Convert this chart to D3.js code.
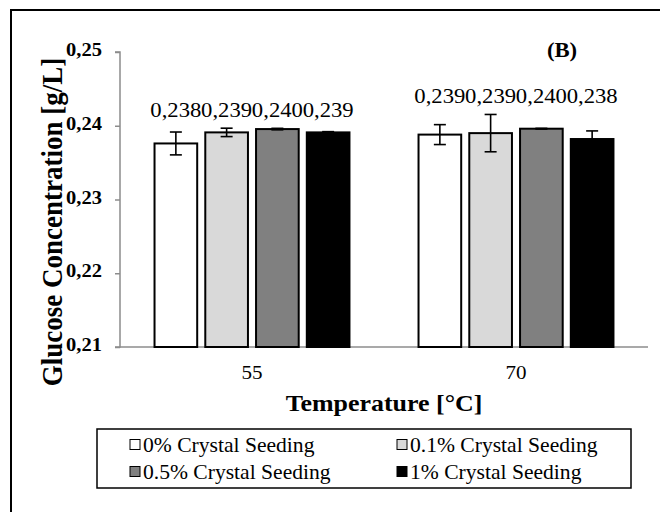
<!DOCTYPE html>
<html>
<head>
<meta charset="utf-8">
<script src="https://cdn.jsdelivr.net/npm/d3@7"></script>
<style>
  body { margin: 0; background: #fff; }
  text { font-family: "Liberation Serif", "Times New Roman", serif; fill: #000; }
</style>
</head>
<body>
<div id="chart"></div>
<script>
// data
const temperatures = ["55", "70"];
const seriesNames = ["0% Crystal Seeding", "0.1% Crystal Seeding", "0.5% Crystal Seeding", "1% Crystal Seeding"];
const means55 = [0.2376, 0.2391, 0.23955, 0.2391];
const means70 = [0.2388, 0.2390, 0.2396, 0.2382];
const errors55 = [0.00155, 0.00057, 0.0001, 0.0001];
const errors70 = [0.00135, 0.00253, 0.00005, 0.0011];
const yTicks = [0.21, 0.22, 0.23, 0.24, 0.25];

const fills = ["#ffffff", "#d9d9d9", "#808080", "#000000"];
const sx = 1.08; // the source figure is slightly stretched sideways

const width = 660, height = 512;
const plot = { left: 120, right: 648, top: 52, bottom: 347 };

const svg = d3.select("#chart").append("svg")
    .attr("width", width)
    .attr("height", height);

// outer frame
svg.append("rect")
    .attr("x", 11).attr("y", 10)
    .attr("width", 700).attr("height", 600)
    .attr("fill", "none")
    .attr("stroke", "#000")
    .attr("stroke-width", 2);

const y = d3.scaleLinear().domain([0.21, 0.25]).range([plot.bottom, plot.top]);
const x0 = d3.scaleBand().domain(temperatures)
    .range([plot.left, plot.right])
    .paddingInner(0.254).paddingOuter(0.127);
const x1 = d3.scaleBand().domain(d3.range(seriesNames.length))
    .range([0, x0.bandwidth()])
    .paddingInner(0.12);

const comma = v => d3.format(".3f")(v).replace(".", ",");

function label(g, x, yy, str, size, weight, anchor) {
    return g.append("text")
        .attr("transform", `translate(${x},${yy}) scale(${sx},1)`)
        .attr("text-anchor", anchor || "middle")
        .style("font-size", size + "px")
        .style("font-weight", weight || "normal")
        .text(str);
}

// y axis
const yAxis = svg.append("g")
    .attr("transform", `translate(${plot.left},0)`)
    .call(d3.axisLeft(y).tickValues(yTicks).tickSize(5).tickFormat(""));
yAxis.select(".domain").attr("stroke", "#8c8c8c").attr("stroke-width", 1.5)
    .attr("d", `M-5,${y(0.25)}H0V${y(0.21)}H-5`);
yAxis.selectAll(".tick line").attr("stroke", "#8c8c8c").attr("stroke-width", 1.5);
yTicks.forEach(t => {
    label(svg, 102, y(t) + 4, comma(t).slice(0, 4), 19, "bold", "end");
});

// x baseline
svg.append("line")
    .attr("x1", plot.left).attr("x2", plot.right)
    .attr("y1", y(0.21)).attr("y2", y(0.21))
    .attr("stroke", "#8c8c8c").attr("stroke-width", 1.5);

const groups = [
    { t: "55", means: means55, errors: errors55 },
    { t: "70", means: means70, errors: errors70 }
];

groups.forEach(gr => {
    const g = svg.append("g").attr("transform", `translate(${x0(gr.t)},0)`);
    const rows = gr.means.map((m, i) => ({ i, m, e: gr.errors[i] }));

    g.selectAll("rect").data(rows).join("rect")
        .attr("x", d => x1(d.i) + 1)
        .attr("y", d => y(d.m))
        .attr("width", x1.bandwidth() - 2)
        .attr("height", d => y(0.21) - y(d.m))
        .attr("fill", d => fills[d.i])
        .attr("stroke", "#000")
        .attr("stroke-width", 2);

    const eb = g.selectAll("g.err").data(rows).join("g").attr("class", "err")
        .attr("stroke", "#000").attr("stroke-width", 1.6);
    const cx = d => x1(d.i) + x1.bandwidth() / 2;
    eb.append("line")
        .attr("x1", cx).attr("x2", cx)
        .attr("y1", d => y(d.m + d.e)).attr("y2", d => y(d.m - d.e));
    [1, -1].forEach(s => {
        eb.append("line")
            .attr("x1", d => cx(d) - 6).attr("x2", d => cx(d) + 6)
            .attr("y1", d => y(d.m + s * d.e)).attr("y2", d => y(d.m + s * d.e));
    });

    // value labels sit just above the tallest error bar of the group
    const labelY = d3.min(rows, d => y(d.m + d.e)) - 11;
    rows.forEach(d => label(g, cx(d), labelY, comma(d.m), 21));

    label(svg, x0(gr.t) + x0.bandwidth() / 2, 379, gr.t, 19.5);
});

// panel tag
label(svg, 562, 57, "(B)", 21, "bold");

// axis titles
label(svg, plot.left + (plot.right - plot.left) / 2, 411, "Temperature [\u00B0C]", 24, "bold");
svg.append("text")
    .attr("transform", `translate(62,222) scale(${sx},1) rotate(-90)`)
    .attr("text-anchor", "middle")
    .style("font-size", "27px")
    .style("font-weight", "bold")
    .text("Glucose Concentration [g/L]");

// legend
const legend = svg.append("g");
legend.append("rect")
    .attr("x", 97).attr("y", 429)
    .attr("width", 534).attr("height", 59)
    .attr("fill", "#fff").attr("stroke", "#000").attr("stroke-width", 1.5);
seriesNames.forEach((name, i) => {
    const lx = i % 2 === 0 ? 130 : 397;
    const ly = i < 2 ? 445 : 472;
    legend.append("rect")
        .attr("x", lx).attr("y", ly - 5.5)
        .attr("width", 10).attr("height", 10)
        .attr("fill", fills[i]).attr("stroke", "#000").attr("stroke-width", 1);
    label(legend, lx + 13, ly + 6.5, name, 20, "normal", "start");
});
</script>
</body>
</html>
